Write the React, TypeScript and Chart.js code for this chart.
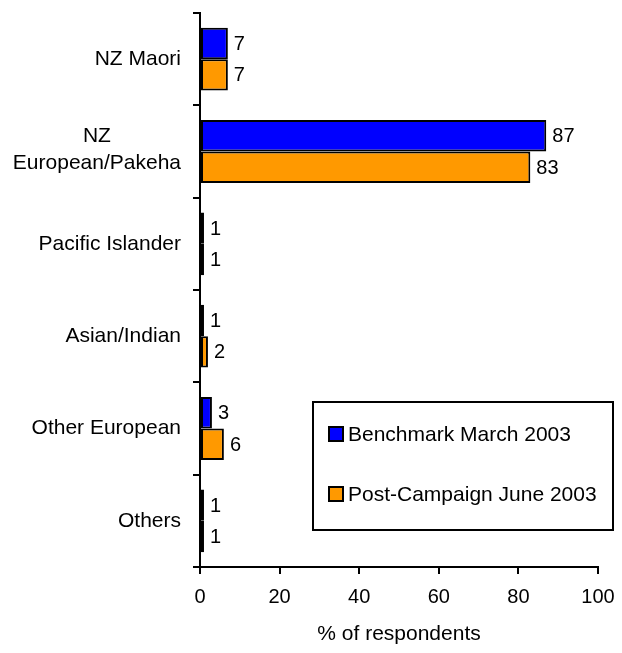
import React, { useEffect, useRef } from "react";
import { Chart, registerables } from "chart.js";

Chart.register(...registerables);

const categories: (string | string[])[] = [
  "NZ Maori",
  ["NZ", "European/Pakeha"],
  "Pacific Islander",
  "Asian/Indian",
  "Other European",
  "Others",
];
const benchmarkLabel = "Benchmark March 2003";
const postLabel = "Post-Campaign June 2003";
const benchmarkValues = [7, 87, 1, 1, 3, 1];
const postValues = [7, 83, 1, 2, 6, 1];
const xTicks = [0, 20, 40, 60, 80, 100];
const xTitle = "% of respondents";

const FONT = "'Liberation Sans', Arial, sans-serif";

const yLabelsPlugin = {
  id: "yLabels",
  afterDraw(chart: any) {
    const ctx = chart.ctx;
    const y = chart.scales.y;
    const right = chart.chartArea.left - 19;
    ctx.save();
    ctx.fillStyle = "#000";
    ctx.font = `21px ${FONT}`;
    ctx.textBaseline = "middle";
    categories.forEach((lab, i) => {
      const cy = y.getPixelForValue(i);
      if (Array.isArray(lab)) {
        const widths = lab.map((l) => ctx.measureText(l).width);
        const maxW = Math.max(...widths);
        const cx = right - maxW / 2;
        const lh = 27;
        ctx.textAlign = "center";
        lab.forEach((l, k) => {
          ctx.fillText(l, cx, cy - 2 + (k - (lab.length - 1) / 2) * lh);
        });
      } else {
        ctx.textAlign = "right";
        ctx.fillText(lab, right, cy);
      }
    });
    ctx.restore();
  },
};

const valueLabelsPlugin = {
  id: "valueLabels",
  afterDatasetsDraw(chart: any) {
    const ctx = chart.ctx;
    ctx.save();
    ctx.fillStyle = "#000";
    ctx.font = `20px ${FONT}`;
    ctx.textAlign = "left";
    ctx.textBaseline = "middle";
    chart.data.datasets.forEach((ds: any, di: number) => {
      const meta = chart.getDatasetMeta(di);
      meta.data.forEach((el: any, i: number) => {
        ctx.fillText(String(ds.data[i]), el.x + 6, el.y + 1);
      });
    });
    ctx.restore();
  },
};

const boxLegendPlugin = {
  id: "boxLegend",
  afterDraw(chart: any) {
    const ctx = chart.ctx;
    const bx = 313, by = 402, bw = 300, bh = 128;
    ctx.save();
    ctx.fillStyle = "#fff";
    ctx.fillRect(bx, by, bw, bh);
    ctx.strokeStyle = "#000";
    ctx.lineWidth = 2;
    ctx.strokeRect(bx, by, bw, bh);
    ctx.font = `21px ${FONT}`;
    ctx.textAlign = "left";
    ctx.textBaseline = "middle";
    const rows = [434, 494];
    chart.data.datasets.forEach((ds: any, i: number) => {
      const cy = rows[i];
      ctx.fillStyle = ds.backgroundColor;
      ctx.fillRect(329, cy - 7, 14, 14);
      ctx.lineWidth = 2;
      ctx.strokeStyle = "#000";
      ctx.strokeRect(329, cy - 7, 14, 14);
      ctx.fillStyle = "#000";
      ctx.fillText(ds.label, 348, cy + 1);
    });
    ctx.restore();
  },
};

export default function App() {
  const ref = useRef<HTMLCanvasElement>(null);
  useEffect(() => {
    if (!ref.current) return;
    const chart = new Chart(ref.current, {
      type: "bar",
      data: {
        labels: categories.map((c) => (Array.isArray(c) ? c.join(" ") : c)),
        datasets: [
          {
            label: benchmarkLabel,
            data: benchmarkValues,
            backgroundColor: "#0000FF",
            borderColor: "#000",
            borderWidth: 2,
            borderSkipped: false,
            categoryPercentage: 0.68,
            barPercentage: 1.0,
          },
          {
            label: postLabel,
            data: postValues,
            backgroundColor: "#FF9900",
            borderColor: "#000",
            borderWidth: 2,
            borderSkipped: false,
            categoryPercentage: 0.68,
            barPercentage: 1.0,
          },
        ],
      },
      options: {
        indexAxis: "y",
        responsive: false,
        animation: false,
        devicePixelRatio: 1,
        layout: { padding: { top: 13, right: 24, left: 0, bottom: 0 } },
        plugins: {
          legend: { display: false },
          tooltip: { enabled: false },
        },
        scales: {
          x: {
            type: "linear",
            min: 0,
            max: 100,
            afterBuildTicks: (scale: any) => {
              scale.ticks = xTicks.map((v) => ({ value: v }));
            },
            afterFit: (scale: any) => {
              scale.height = 86;
              scale.paddingLeft = 0;
              scale.paddingRight = 0;
            },
            ticks: {
              color: "#000",
              font: { family: FONT, size: 20 },
              padding: 11,
              maxRotation: 0,
            },
            grid: {
              drawOnChartArea: false,
              drawTicks: true,
              tickLength: 7,
              color: "#000",
              lineWidth: 2,
            },
            border: { color: "#000", width: 2 },
            title: {
              display: true,
              text: xTitle,
              color: "#000",
              font: { family: FONT, size: 21 },
              padding: { top: 0, bottom: 6 },
            },
          },
          y: {
            type: "category",
            afterFit: (scale: any) => {
              scale.width = 200;
              scale.paddingTop = 0;
              scale.paddingBottom = 0;
            },
            ticks: { display: false },
            grid: {
              offset: true,
              drawOnChartArea: false,
              drawTicks: true,
              tickLength: 7,
              color: "#000",
              lineWidth: 2,
            },
            border: { color: "#000", width: 2 },
          },
        },
      },
      plugins: [valueLabelsPlugin, yLabelsPlugin, boxLegendPlugin],
    } as any);
    return () => chart.destroy();
  }, []);
  return (
    <div style={{ position: "absolute", left: 0, top: 0, width: 622, height: 653, background: "#fff" }}>
      <canvas ref={ref} width={622} height={653} style={{ display: "block" }} />
    </div>
  );
}
